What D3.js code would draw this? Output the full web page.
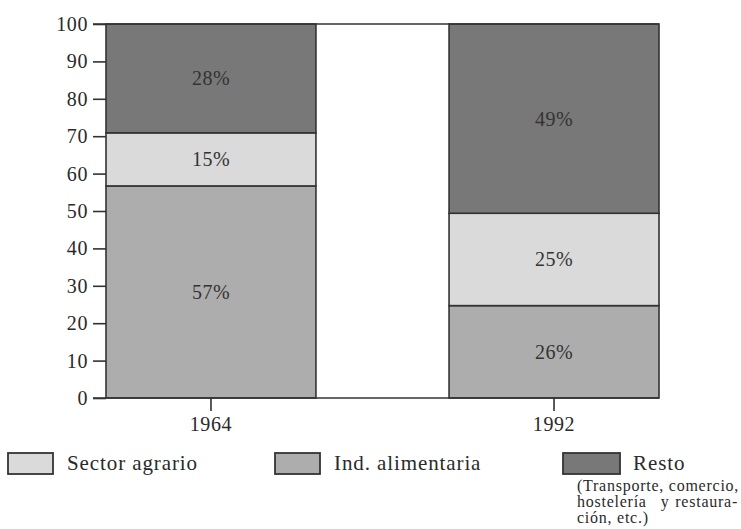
<!DOCTYPE html>
<html>
<head>
<meta charset="utf-8">
<script src="https://cdn.jsdelivr.net/npm/d3@7"></script>
<style>
  body { margin: 0; background: #fff; }
  text { font-family: "Liberation Serif", "DejaVu Serif", serif; fill: #2a2a2a; }
</style>
</head>
<body>
<div class="chart"></div>
<script>
const years = ["1964", "1992"];
const categories = ["Ind. alimentaria", "Sector agrario", "Resto"]; // bottom to top
// segment heights as drawn in the picture (%)
const indAlimentaria = [56.7, 24.7];
const sectorAgrario = [14.2, 24.7];
const resto = [29.1, 50.6];
// printed labels
const labelsInd = ["57%", "26%"];
const labelsAgr = ["15%", "25%"];
const labelsResto = ["28%", "49%"];
const yTicks = [0, 10, 20, 30, 40, 50, 60, 70, 80, 90, 100];
const legendOrder = ["Sector agrario", "Ind. alimentaria", "Resto"];
const noteLines = ["(Transporte, comercio,", "hostelería y restaura-", "ción, etc.)"];

const colors = {
  "Sector agrario": "#dadada",
  "Ind. alimentaria": "#adadad",
  "Resto": "#787878"
};

const svg = d3.select(".chart")
  .append("svg")
    .attr("width", 741)
    .attr("height", 529);

const x = d3.scaleBand()
  .domain(years)
  .range([106, 659])
  .paddingInner(0.388)
  .paddingOuter(0);

const y = d3.scaleLinear()
  .domain([0, 100])
  .range([398, 24]);

//data rows
const rows = years.map((yr, i) => ({
  year: yr,
  "Ind. alimentaria": indAlimentaria[i],
  "Sector agrario": sectorAgrario[i],
  "Resto": resto[i]
}));
const labelMap = {
  "Ind. alimentaria": labelsInd,
  "Sector agrario": labelsAgr,
  "Resto": labelsResto
};

const stack = d3.stack().keys(categories)(rows);

//bars
const layers = svg.append("g").selectAll("g")
  .data(stack)
  .enter().append("g")
  .attr("fill", d => colors[d.key]);

layers.selectAll("rect")
  .data(d => d)
  .enter().append("rect")
  .attr("x", d => x(d.data.year))
  .attr("y", d => y(d[1]))
  .attr("width", x.bandwidth())
  .attr("height", d => y(d[0]) - y(d[1]))
  .attr("stroke", "#333")
  .attr("stroke-width", 1.6);

//labels in bars
stack.forEach(layer => {
  svg.append("g").selectAll("text")
    .data(layer)
    .enter().append("text")
    .attr("x", d => x(d.data.year) + x.bandwidth() / 2)
    .attr("y", d => (y(d[0]) + y(d[1])) / 2)
    .attr("dy", "0.35em")
    .attr("text-anchor", "middle")
    .style("font-size", "20px")
    .style("letter-spacing", "0.5px")
    .style("fill", "#333")
    .text((d, i) => labelMap[layer.key][i]);
});

//top and bottom lines
[0, 100].forEach(v => {
  svg.append("line")
    .attr("x1", 93)
    .attr("x2", 659)
    .attr("y1", y(v))
    .attr("y2", y(v))
    .attr("stroke", "#333")
    .attr("stroke-width", 1.6);
});

//y axis
const yAxis = svg.append("g")
  .attr("transform", "translate(106,0)")
  .call(d3.axisLeft(y).tickValues(yTicks).tickSize(13).tickSizeOuter(0).tickPadding(5));
yAxis.select(".domain").remove();
yAxis.selectAll(".tick line").attr("stroke", "#333").attr("stroke-width", 1.6);
yAxis.selectAll(".tick text")
  .style("font-family", "Liberation Serif")
  .style("font-size", "20px")
  .style("letter-spacing", "0.6px")
  .style("fill", "#2a2a2a");

//x axis
const xAxis = svg.append("g")
  .attr("transform", "translate(0," + y(0) + ")")
  .call(d3.axisBottom(x).tickSize(13).tickSizeOuter(0).tickPadding(6));
xAxis.select(".domain").remove();
xAxis.selectAll(".tick line").attr("stroke", "#333").attr("stroke-width", 1.6);
xAxis.selectAll(".tick text")
  .style("font-family", "Liberation Serif")
  .style("font-size", "20px")
  .style("letter-spacing", "0.6px")
  .style("fill", "#2a2a2a");

//legend
const legendX = [8, 275, 563];
const legend = svg.append("g").selectAll("g")
  .data(legendOrder)
  .enter().append("g")
  .attr("transform", (d, i) => "translate(" + legendX[i] + ",453)");

legend.append("rect")
  .attr("width", d => d === "Resto" ? 57 : 45)
  .attr("height", 21)
  .attr("fill", d => colors[d])
  .attr("stroke", "#333")
  .attr("stroke-width", 1.8);

legend.append("text")
  .attr("x", d => d === "Resto" ? 70 : 59)
  .attr("y", 17)
  .style("font-size", "21px")
  .style("letter-spacing", "0.9px")
  .text(d => d);

//note under Resto (justified block)
const note = svg.append("g")
  .style("font-size", "16px")
  .style("letter-spacing", "0.75px");
note.append("text").attr("x", 577).attr("y", 491).text(noteLines[0]);
const words = noteLines[1].split(" ");
note.append("text").attr("x", 577).attr("y", 507).text(words[0]);
note.append("text").attr("x", 665).attr("y", 507).attr("text-anchor", "middle").text(words[1]);
note.append("text").attr("x", 738).attr("y", 507).attr("text-anchor", "end").text(words[2]);
note.append("text").attr("x", 577).attr("y", 523).text(noteLines[2]);
</script>
</body>
</html>
